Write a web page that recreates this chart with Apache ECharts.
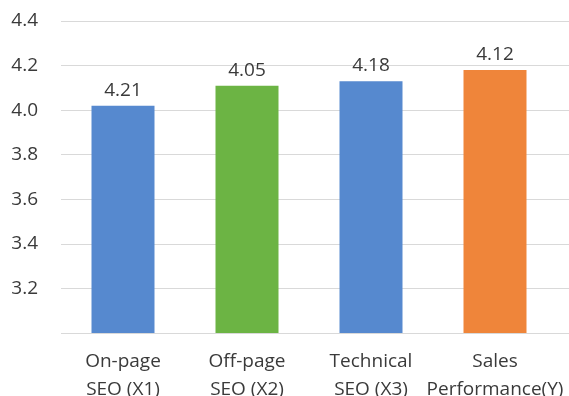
<!DOCTYPE html>
<html>
<head>
<meta charset="utf-8">
<title>SEO chart</title>
<script src="https://cdn.jsdelivr.net/npm/echarts@6/dist/echarts.min.js"></script>
<style>
  html, body { margin: 0; padding: 0; background: #fff; }
  #chart { width: 569px; height: 396px; }
</style>
</head>
<body>
<div id="chart"></div>
<script>
var categories = ['On-page\nSEO (X1)', 'Off-page\nSEO (X2)', 'Technical\nSEO (X3)', 'Sales\nPerformance(Y)'];
var barValues = [4.02, 4.11, 4.13, 4.18];
var barLabels = ['4.21', '4.05', '4.18', '4.12'];
var barColors = ['#5689cf', '#6cb444', '#5689cf', '#ef853a'];

var myChart = echarts.init(document.getElementById('chart'));

var font = 'Open Sans';
var option = {
  animation: false,
  grid: [
    { left: 61, right: 12, top: 21, bottom: 63, containLabel: false, outerBoundsMode: 'none' },
    { left: 61, right: 0, top: 21, bottom: 63, containLabel: false, outerBoundsMode: 'none' }
  ],
  xAxis: [
    {
      type: 'category',
      gridIndex: 0,
      data: categories,
      axisLine: { show: false },
      axisTick: { show: false },
      axisLabel: {
        color: '#3a3a3a',
        fontFamily: font,
        fontSize: 19,
        lineHeight: 28,
        margin: 15,
        interval: 0
      }
    },
    { type: 'category', gridIndex: 1, data: [''], show: false }
  ],
  yAxis: [
    {
      type: 'value',
      gridIndex: 0,
      min: 3.0,
      max: 4.4,
      interval: 0.2,
      splitLine: { show: false },
      axisLine: { show: false },
      axisTick: { show: false },
      axisLabel: {
        color: '#3a3a3a',
        fontFamily: font,
        fontSize: 19,
        margin: 23,
        formatter: function (v) {
          if (Math.abs(v - 3.0) < 1e-6) return '';
          return v.toFixed(1);
        }
      }
    },
    {
      type: 'value',
      gridIndex: 1,
      min: 3.0,
      max: 4.4,
      interval: 0.2,
      axisLine: { show: false },
      axisTick: { show: false },
      axisLabel: { show: false },
      splitLine: { lineStyle: { color: '#d9d9d9', width: 1 } }
    }
  ],
  series: [
    {
      type: 'bar',
      xAxisIndex: 0,
      yAxisIndex: 0,
      barWidth: 63,
      z: 3,
      data: barValues.map(function (v, i) {
        return { value: v, itemStyle: { color: barColors[i] } };
      }),
      label: {
        show: true,
        position: 'top',
        distance: 6,
        color: '#3a3a3a',
        fontFamily: font,
        fontSize: 19,
        formatter: function (p) { return barLabels[p.dataIndex]; }
      }
    }
  ]
};

myChart.setOption(option);
</script>
</body>
</html>
